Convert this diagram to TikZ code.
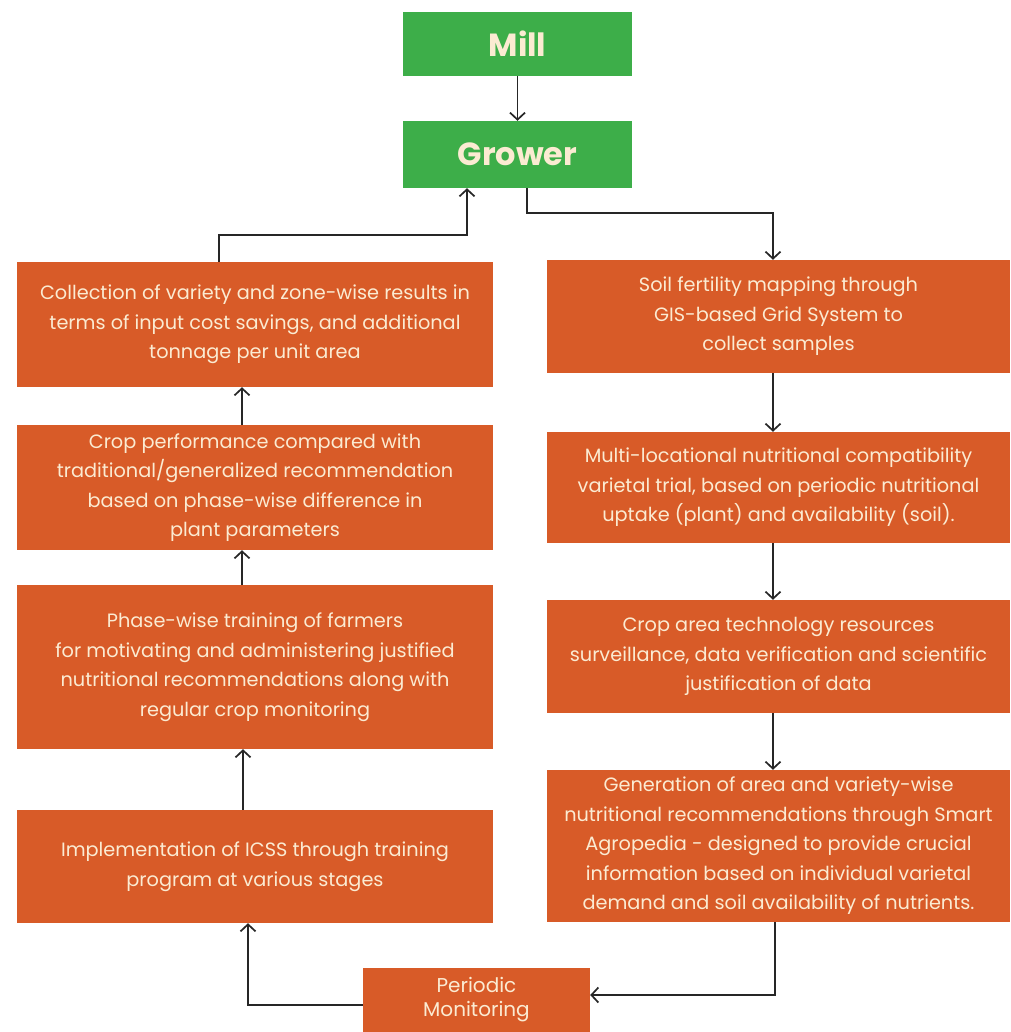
\documentclass[tikz,border=0pt]{standalone}
\usepackage{fontspec}
\setmainfont{Poppins}
\usetikzlibrary{arrows.meta}
\definecolor{gr}{HTML}{3DAE49}
\definecolor{og}{HTML}{D85B28}
\definecolor{cream}{HTML}{FBEBD2}
\tikzset{
  greenbox/.style={fill=gr, text=cream, font=\fontsize{32}{34}\selectfont\bfseries, minimum width=229pt, inner sep=0pt},
  obox/.style={fill=og, text=cream, font=\fontsize{19.3}{29.5}\selectfont, align=center, inner sep=0pt},
  arr/.style={draw=black!85, line width=1.7pt, -{Straight Barb[length=7pt,width=15pt,line width=1.7pt]}},
}
\begin{document}
\begin{tikzpicture}[x=1pt,y=-1pt]
\useasboundingbox (0,0) rectangle (1010,1032);
\fill[white] (0,0) rectangle (1010,1032);
\node[greenbox, minimum height=64pt] (mill) at (517.5,44) {Mill};
\node[greenbox, minimum height=67pt] (grower) at (517.5,154.5) {Grower};
\node[obox, minimum width=476pt, minimum height=125pt] (L1) at (255,324.5) {Collection of variety and zone-wise results in\\terms of input cost savings, and additional\\tonnage per unit area};
\node[obox, minimum width=476pt, minimum height=125pt] (L2) at (255,487.5) {Crop performance compared with\\traditional/generalized recommendation\\based on phase-wise difference in\\plant parameters};
\node[obox, minimum width=476pt, minimum height=164pt] (L3) at (255,667) {Phase-wise training of farmers\\for motivating and administering justified\\nutritional recommendations along with\\regular crop monitoring};
\node[obox, minimum width=476pt, minimum height=113pt] (L4) at (255,866.5) {Implementation of ICSS through training\\program at various stages};
\node[obox, minimum width=463pt, minimum height=113pt] (R1) at (778.5,316.5) {Soil fertility mapping through\\GIS-based Grid System to\\collect samples};
\node[obox, minimum width=463pt, minimum height=111pt] (R2) at (778.5,487.5) {Multi-locational nutritional compatibility\\varietal trial, based on periodic nutritional\\uptake (plant) and availability (soil).};
\node[obox, minimum width=463pt, minimum height=113pt] (R3) at (778.5,656.5) {Crop area technology resources\\surveillance, data verification and scientific\\justification of data};
\node[obox, minimum width=463pt, minimum height=152pt] (R4) at (778.5,846) {Generation of area and variety-wise\\nutritional recommendations through Smart\\Agropedia - designed to provide crucial\\information based on individual varietal\\demand and soil availability of nutrients.};
\node[obox, minimum width=227pt, minimum height=64pt, font=\fontsize{20}{24}\selectfont] (P) at (476.5,1000) {Periodic\\Monitoring};
% connectors
\draw[arr] (mill) -- (grower);
\draw[arr] ([xshift=9.5pt]grower.south) -- ++(0,25) -| ([xshift=-5.5pt]R1.north);
\draw[arr] ([xshift=-5.5pt]R1.south) -- ([xshift=-5.5pt]R2.north);
\draw[arr] ([xshift=-5.5pt]R2.south) -- ([xshift=-5.5pt]R3.north);
\draw[arr] ([xshift=-5.5pt]R3.south) -- ([xshift=-5.5pt]R4.north);
\draw[arr] ([xshift=-3.5pt]R4.south) |- ([yshift=5pt]P.east);
\draw[arr] ([yshift=-5pt]P.west) -| ([xshift=-7pt]L4.south);
\draw[arr] ([xshift=-12pt]L4.north) -- ([xshift=-12pt]L3.south);
\draw[arr] ([xshift=-13pt]L3.north) -- ([xshift=-13pt]L2.south);
\draw[arr] ([xshift=-13pt]L2.north) -- ([xshift=-13pt]L1.south);
\draw[arr] ([xshift=-36pt]L1.north) -- ++(0,-27) -| ([xshift=-50.5pt]grower.south);
\end{tikzpicture}
\end{document}
